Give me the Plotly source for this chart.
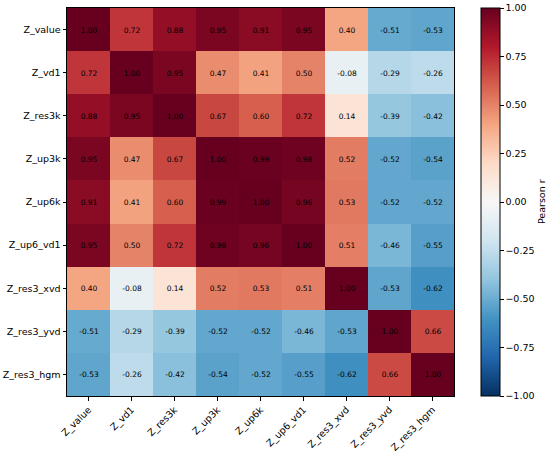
import plotly.graph_objects as go

# Variables (rows top -> bottom, columns left -> right)
labels = ["Z_value", "Z_vd1", "Z_res3k", "Z_up3k", "Z_up6k",
          "Z_up6_vd1", "Z_res3_xvd", "Z_res3_yvd", "Z_res3_hgm"]

row_value = [1.00, 0.72, 0.88, 0.95, 0.91, 0.95, 0.40, -0.51, -0.53]
row_vd1 = [0.72, 1.00, 0.95, 0.47, 0.41, 0.50, -0.08, -0.29, -0.26]
row_res3k = [0.88, 0.95, 1.00, 0.67, 0.60, 0.72, 0.14, -0.39, -0.42]
row_up3k = [0.95, 0.47, 0.67, 1.00, 0.99, 0.98, 0.52, -0.52, -0.54]
row_up6k = [0.91, 0.41, 0.60, 0.99, 1.00, 0.96, 0.53, -0.52, -0.52]
row_up6_vd1 = [0.95, 0.50, 0.72, 0.98, 0.96, 1.00, 0.51, -0.46, -0.55]
row_res3_xvd = [0.40, -0.08, 0.14, 0.52, 0.53, 0.51, 1.00, -0.53, -0.62]
row_res3_yvd = [-0.51, -0.29, -0.39, -0.52, -0.52, -0.46, -0.53, 1.00, 0.66]
row_res3_hgm = [-0.53, -0.26, -0.42, -0.54, -0.52, -0.55, -0.62, 0.66, 1.00]

corr = [row_value, row_vd1, row_res3k, row_up3k, row_up6k,
        row_up6_vd1, row_res3_xvd, row_res3_yvd, row_res3_hgm]

cbar_ticks = [-1.0, -0.75, -0.5, -0.25, 0.0, 0.25, 0.5, 0.75, 1.0]

# matplotlib RdBu_r
rdbu_r = ["#053061", "#2166ac", "#4393c3", "#92c5de", "#d1e5f0", "#f7f7f7",
          "#fddbc7", "#f4a582", "#d6604d", "#b2182b", "#67001f"]
colorscale = [[i / (len(rdbu_r) - 1), c] for i, c in enumerate(rdbu_r)]

cell_text = [[f"{v:.2f}" for v in row] for row in corr]
tick_text = [f"{t:.2f}".replace("-", "\u2212") for t in cbar_ticks]

fig = go.Figure(go.Heatmap(
    z=corr, x=labels, y=labels,
    zmin=-1, zmax=1,
    colorscale=colorscale,
    text=cell_text,
    texttemplate="%{text}",
    textfont=dict(size=7.5, color="black", family="DejaVu Sans"),
    hovertemplate="%{y} / %{x}: %{z:.2f}<extra></extra>",
    colorbar=dict(
        tickvals=cbar_ticks, ticktext=tick_text,
        tickfont=dict(size=9.5, color="black"),
        ticks="outside", ticklen=3.5, tickcolor="black",
        thickness=19, thicknessmode="pixels",
        len=1, lenmode="fraction", y=0.5, yanchor="middle",
        x=1.07, xanchor="left", xpad=0, ypad=0,
        outlinecolor="black", outlinewidth=1,
    ),
))

axis_common = dict(
    showline=True, linecolor="black", linewidth=1, mirror=True,
    ticks="outside", ticklen=3.5, tickcolor="black",
    tickfont=dict(size=9.5, color="black"),
    showgrid=False, zeroline=False, automargin=False,
)

fig.update_xaxes(tickangle=-45, **axis_common)
fig.update_yaxes(autorange="reversed", **axis_common)

fig.add_annotation(
    text="Pearson r", textangle=-90,
    xref="paper", yref="paper", x=1.225, y=0.5,
    xanchor="center", yanchor="middle", showarrow=False,
    font=dict(size=9.5, color="black"),
)

fig.update_layout(
    width=550, height=452,
    margin=dict(l=67, r=96, t=8, b=56),
    font=dict(family="DejaVu Sans", color="black"),
    plot_bgcolor="white", paper_bgcolor="white",
)

# drop the default page margin so the figure sits at the window's corner
fig.write_html("out.html", config={"displayModeBar": False},
               post_script="document.body.style.margin = '0';")
